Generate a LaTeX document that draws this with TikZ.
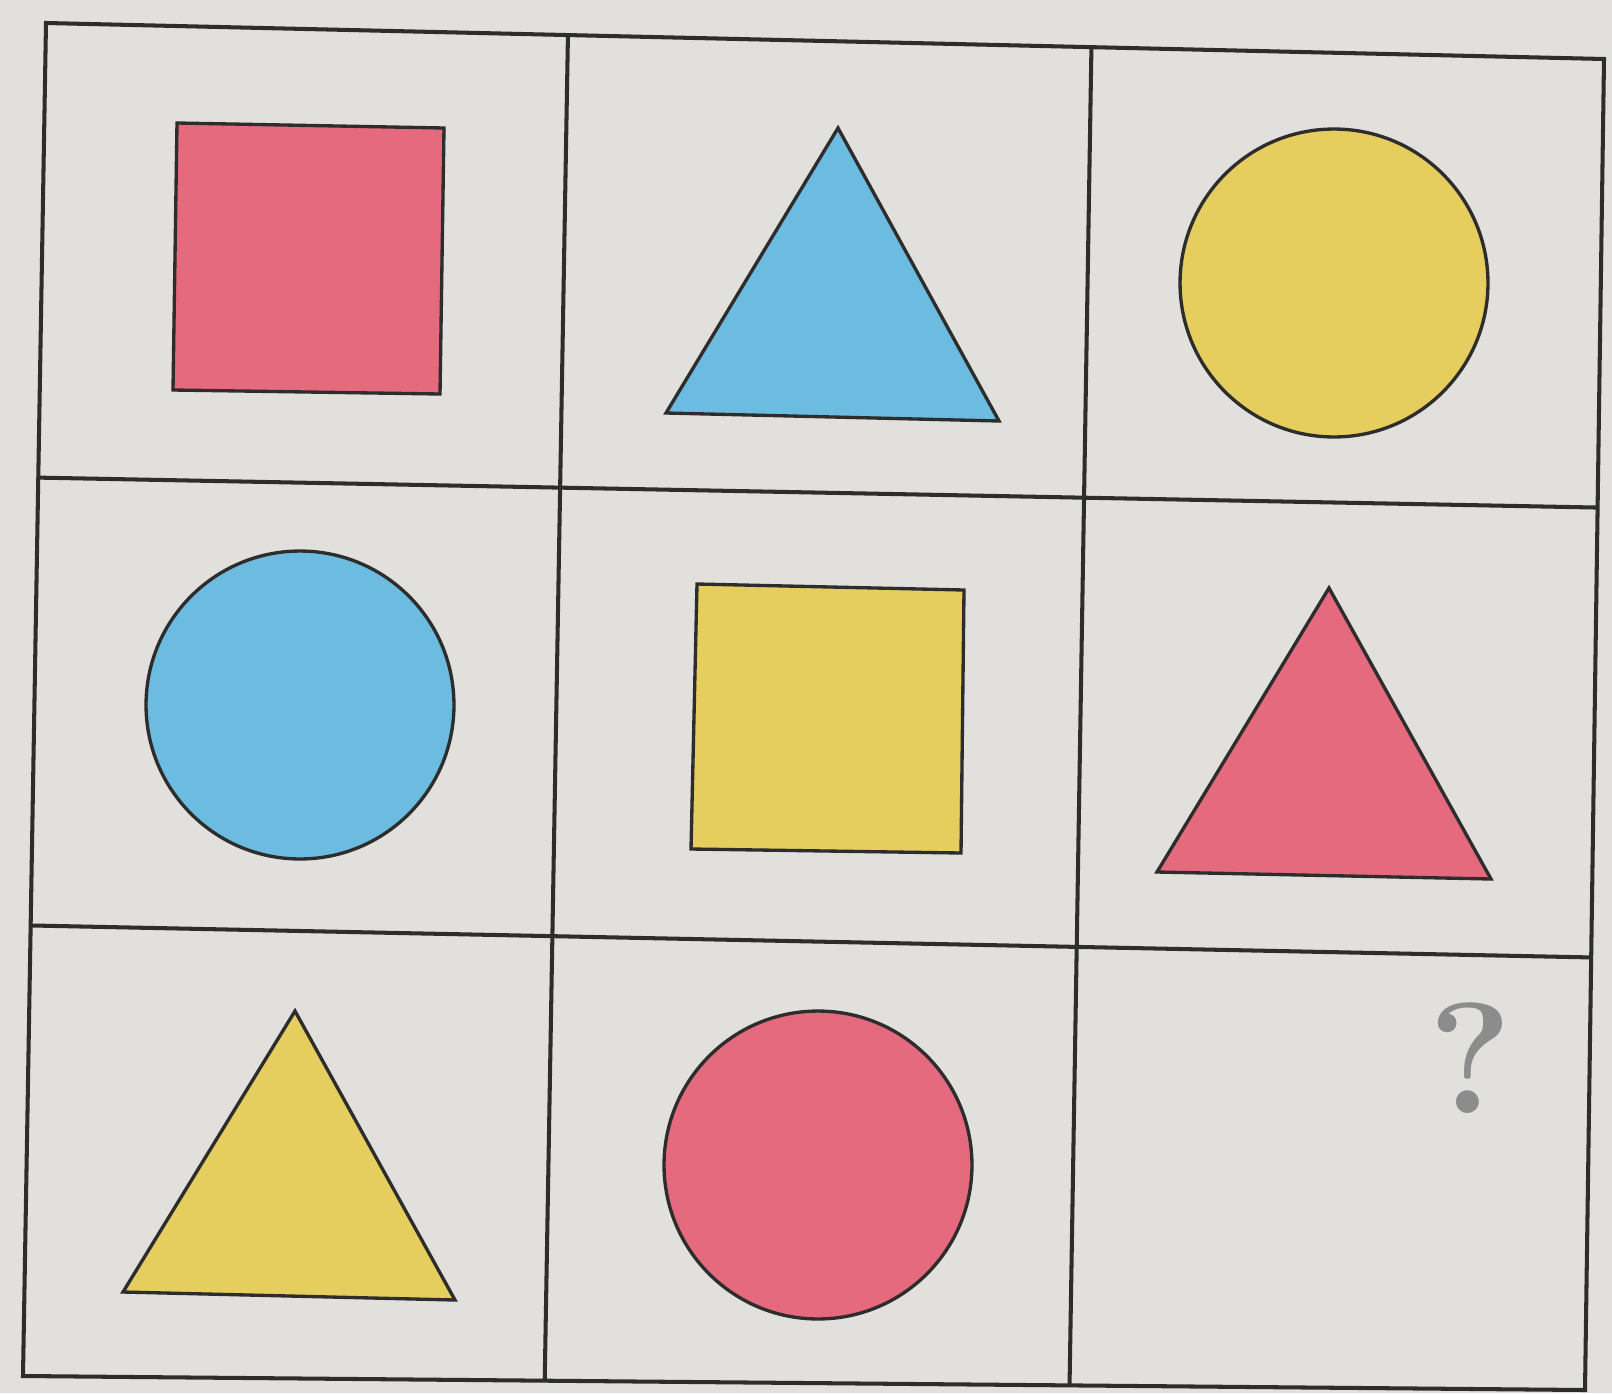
\documentclass[tikz,border=0pt]{standalone}
\usetikzlibrary{calc}
\definecolor{paper}{RGB}{226,224,220}
\definecolor{gridline}{RGB}{45,45,45}
\definecolor{pinkfill}{RGB}{229,106,126}
\definecolor{bluefill}{RGB}{107,188,224}
\definecolor{yellowfill}{RGB}{229,205,94}
\definecolor{qgray}{RGB}{140,140,140}
\tikzset{
  gridstroke/.style={draw=gridline, line width=2.3pt},
  shapestroke/.style={draw=gridline, line width=1.9pt, line join=miter},
  pinkshape/.style={shapestroke, fill=pinkfill},
  blueshape/.style={shapestroke, fill=bluefill},
  yellowshape/.style={shapestroke, fill=yellowfill},
}
\begin{document}
\begin{tikzpicture}[x=0.02cm, y=-0.02cm]
\fill[paper] (0,0) rectangle (1612,1393);
\useasboundingbox (0,0) rectangle (1612,1393);
% grid corners
\coordinate (A) at (46,23);
\coordinate (B) at (1604,59);
\coordinate (C) at (1585,1390);
\coordinate (D) at (23,1376);
% division points on the frame edges
\coordinate (T1) at ($(A)!0.335!(B)$);
\coordinate (T2) at ($(A)!0.671!(B)$);
\coordinate (Bo1) at ($(D)!0.334!(C)$);
\coordinate (Bo2) at ($(D)!0.670!(C)$);
\coordinate (L1) at ($(A)!0.336!(D)$);
\coordinate (L2) at ($(A)!0.667!(D)$);
\coordinate (R1) at ($(B)!0.337!(C)$);
\coordinate (R2) at ($(B)!0.675!(C)$);
% inner lines and outer frame
\draw[gridstroke] (T1) -- (Bo1);
\draw[gridstroke] (T2) -- (Bo2);
\draw[gridstroke] (L1) -- (R1);
\draw[gridstroke] (L2) -- (R2);
\draw[gridstroke, line join=miter] (A) -- (B) -- (C) -- (D) -- cycle;
% row 1
\draw[pinkshape] (177,123) -- (444,128) -- (440,394) -- (173,390) -- cycle;
\draw[blueshape] (838,128) -- (999,421) -- (666,413) -- cycle;
\draw[yellowshape] (1334,283) circle[radius=3.08cm];
% row 2
\draw[blueshape] (300,705) circle[radius=3.08cm];
\draw[yellowshape] (697,584) -- (964,590) -- (961,853) -- (691,849) -- cycle;
\draw[pinkshape] (1329,588) -- (1491,879) -- (1157,872) -- cycle;
% row 3
\draw[yellowshape] (295,1011) -- (455,1300) -- (123,1292) -- cycle;
\draw[pinkshape] (818,1165) circle[radius=3.08cm];
\node[text=qgray, font=\fontsize{90}{90}\selectfont\bfseries, inner sep=0pt] (q) at (1470,1058) {?};
\end{tikzpicture}
\end{document}
